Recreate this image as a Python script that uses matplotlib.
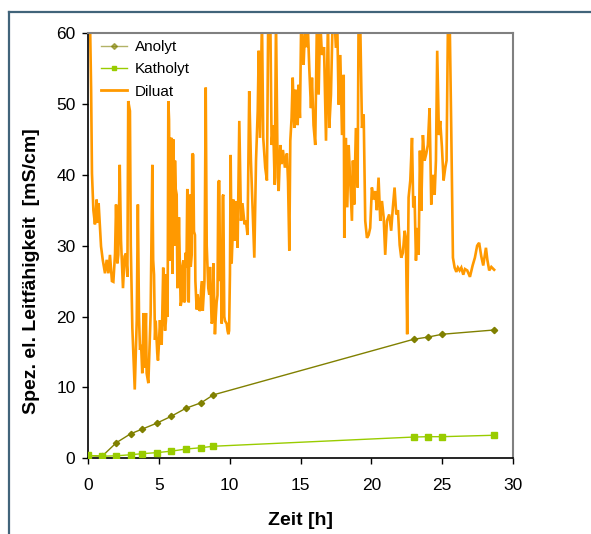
import matplotlib
matplotlib.use("Agg")
import matplotlib.pyplot as plt
from matplotlib.lines import Line2D

plt.rcParams['font.family'] = ['Liberation Sans', 'DejaVu Sans']

# ---- data ----
probe_time = [0, 1, 2, 3, 3.8, 4.85, 5.85, 6.9, 8.0, 8.85, 23.0, 24.0, 25.0, 28.65]
anolyt = [0.4, 0.3, 2.2, 3.45, 4.1, 4.95, 5.9, 7.05, 7.85, 8.95, 16.8, 17.1, 17.5, 18.1]
katholyt = [0.4, 0.3, 0.35, 0.5, 0.65, 0.8, 1.0, 1.3, 1.5, 1.7, 3.0, 3.05, 3.05, 3.25]

diluat_time = [
    0.0, 0.14, 0.22, 0.28, 0.38, 0.49, 0.61, 0.68, 0.75, 0.85, 0.92, 1.04, 1.20, 1.32,
    1.44, 1.55, 1.69, 1.79, 1.91, 1.98, 2.07, 2.14, 2.24, 2.33, 2.47, 2.58, 2.68, 2.78,
    2.84, 2.96, 3.02, 3.13, 3.30, 3.38, 3.44, 3.52, 3.60, 3.67, 3.75, 3.83, 3.92, 4.00,
    4.09, 4.14, 4.26, 4.35, 4.42, 4.54, 4.60, 4.66, 4.73, 4.78, 4.89,
    4.94, 4.99, 5.08, 5.13, 5.20, 5.31, 5.37, 5.44, 5.50, 5.55, 5.62, 5.67, 5.72, 5.79,
    5.84, 5.91, 5.96, 6.02, 6.09, 6.14, 6.19, 6.26, 6.31, 6.37, 6.42, 6.54, 6.61, 6.66,
    6.73, 6.78, 6.85, 6.89, 6.95, 7.01, 7.11, 7.20, 7.25, 7.32, 7.36, 7.43, 7.48, 7.55,
    7.58, 7.67, 7.74, 7.81, 7.86, 7.93, 7.98, 8.05, 8.10, 8.16, 8.22, 8.28, 8.31, 8.38,
    8.42, 8.49, 8.56, 8.61, 8.73, 8.80, 8.85, 8.96, 9.02, 9.08, 9.14, 9.20, 9.27, 9.32,
    9.38, 9.44, 9.51, 9.55, 9.62, 9.67, 9.79, 9.85, 9.91, 9.96, 10.02, 10.07, 10.14,
    10.21, 10.26, 10.37, 10.44, 10.56, 10.68, 10.80, 10.90, 11.05, 11.15, 11.26, 11.38,
    11.50, 11.62, 11.74, 11.86, 11.98, 12.05, 12.14, 12.28, 12.37, 12.51, 12.63, 12.72,
    12.87, 12.96, 13.07, 13.18, 13.27, 13.39, 13.46, 13.57, 13.66, 13.76, 13.90, 14.04,
    14.12, 14.21, 14.28, 14.37, 14.45, 14.56, 14.64, 14.72, 14.80, 14.87, 14.96, 15.05,
    15.14, 15.22, 15.34, 15.42, 15.50, 15.62, 15.74, 15.81, 15.92, 16.04, 16.16, 16.28,
    16.39, 16.51, 16.66, 16.80, 16.94, 17.03, 17.15, 17.27, 17.40, 17.50, 17.59, 17.69,
    17.81, 17.93, 18.05, 18.09, 18.20, 18.30, 18.40, 18.51, 18.63, 18.70, 18.79, 18.91,
    19.03, 19.10, 19.22, 19.34, 19.46, 19.57, 19.69, 19.81, 19.92, 20.04, 20.16, 20.28,
    20.39, 20.51, 20.63, 20.75, 20.87, 20.98, 21.10, 21.26, 21.40, 21.52, 21.64, 21.76,
    21.88, 22.00, 22.11, 22.23, 22.35, 22.44, 22.53, 22.63, 22.75, 22.87, 22.96, 23.05,
    23.15, 23.24, 23.34, 23.43, 23.52, 23.64, 23.76, 23.88, 23.99, 24.11, 24.23, 24.35,
    24.47, 24.56, 24.65, 24.77, 24.86, 24.98, 25.10, 25.22, 25.31, 25.41, 25.53, 25.64,
    25.76, 25.88, 26.00, 26.11, 26.23, 26.35, 26.49, 26.61, 26.77, 26.96, 27.15, 27.31,
    27.47, 27.61, 27.76, 27.90, 28.09, 28.19, 28.32, 28.47, 28.67,
]
diluat = [
    62, 62, 52.0, 40.2, 35.0, 33.0, 36.5, 33.2, 36.0, 32.5, 29.9, 28.0, 26.1, 28.0,
    26.1, 28.7, 25.0, 24.9, 28.9, 35.8, 27.5, 28.7, 41.4, 30.7, 24.0, 28.5, 28.9, 25.6,
    50.4, 49.0, 30.0, 18.4, 9.7, 15.0, 19.4, 35.8, 20.0, 15.3, 16.0, 12.0, 20.5, 12.8,
    20.5, 12.0, 10.6, 16.0, 20.3, 41.4, 28.0, 25.9, 16.7, 19.4, 14.8,
    13.8, 15.5, 19.5, 17.5, 16.0, 26.9, 20.0, 18.0, 19.4, 26.0, 20.0, 50.4, 47.8, 27.9,
    45.0, 45.2, 26.0, 45.0, 30.0, 42.0, 38.0, 37.2, 24.0, 27.9, 34.0, 21.5, 22.3, 27.0,
    27.9, 22.0, 22.3, 29.0, 26.9, 38.0, 22.0, 37.2, 27.0, 28.7, 43.0, 42.8, 32.0, 31.5,
    25.0, 21.0, 23.1, 22.0, 20.8, 21.0, 23.7, 25.0, 20.8, 23.0, 25.0, 42.0, 52.3, 30.0,
    27.9, 24.0, 23.1, 27.0, 19.0, 19.4, 27.5, 17.5, 20.0, 22.0, 23.0, 39.0, 39.2, 25.0,
    26.9, 19.0, 37.0, 37.2, 20.0, 19.4, 19.0, 18.0, 17.5, 18.0, 26.0, 42.8, 27.5,
    31.5, 36.5, 30.7, 36.3, 29.7, 47.6, 33.5, 36.0, 33.0, 33.5, 31.5, 51.8,
    42.0, 35.0, 28.3, 42.0, 49.0, 57.5, 45.2, 62, 45.2, 41.0, 39.2, 62,
    62, 44.2, 47.0, 38.6, 62, 39.6, 37.7, 44.2, 41.5, 43.5, 41.0, 43.0,
    39.0, 29.3, 44.8, 48.0, 53.7, 46.6, 52.0, 50.0, 47.0, 52.7, 48.0, 62,
    58.0, 55.5, 62, 58.0, 62, 55.0, 49.4, 53.7, 47.0, 44.2, 62, 51.3,
    62, 56.9, 58.0, 44.8, 62, 46.6, 51.3, 62, 62, 57.9, 62, 49.9,
    56.9, 45.6, 54.1, 31.1, 45.2, 35.4, 44.2, 39.0, 33.5, 42.0, 35.8, 46.6,
    38.2, 62, 61, 46.6, 48.5, 33.5, 31.1, 31.5, 32.5, 38.2, 36.5, 37.7,
    35.0, 39.6, 33.5, 36.3, 34.0, 28.7, 33.5, 34.4, 32.1, 35.4, 38.2, 34.4,
    35.0, 30.1, 28.3, 29.0, 32.1, 31.0, 17.5, 36.8, 39.2, 45.2, 35.4, 37.0,
    27.9, 32.5, 28.7, 43.4, 34.9, 45.6, 42.0, 43.0, 44.2, 49.4, 35.8, 40.0,
    37.2, 42.0, 57.5, 45.6, 47.6, 44.0, 39.2, 41.0, 42.0, 62, 62, 46.6,
    28.3, 26.9, 26.3, 26.9, 26.5, 26.9, 25.9, 26.7, 26.5, 25.6, 27.2, 28.3,
    30.0, 30.4, 28.5, 27.2, 29.7, 28.0, 26.5, 27.0, 26.6,
]

x_ticks = [0, 5, 10, 15, 20, 25, 30]
y_ticks = [0, 10, 20, 30, 40, 50, 60]

# ---- figure ----
fig = plt.figure(figsize=(5.91, 5.34), dpi=100)
ax = fig.add_axes([88 / 591, 1 - 458.3 / 534, 425 / 591, 425.3 / 534])

ax.plot(diluat_time, diluat, color='#FF9900', lw=1.9, label='Diluat', zorder=2,
        solid_joinstyle='miter')
ax.plot(probe_time, anolyt, color='#808000', lw=1.0, marker='D', ms=3.2,
        mec='#808000', mfc='#808000', label='Anolyt', zorder=3)
ax.plot(probe_time, katholyt, color='#99CC00', lw=1.0, marker='s', ms=4.3,
        mec='#99CC00', mfc='#99CC00', label='Katholyt', zorder=3)

ax.set_xlim(0, 30)
ax.set_ylim(0, 60)
ax.set_xticks(x_ticks)
ax.set_yticks(y_ticks)
ax.tick_params(axis='both', direction='out', length=4, width=1, labelsize=12.5,
               colors='black')
ax.tick_params(axis='x', pad=10)
ax.tick_params(axis='y', pad=5)

for s in ['left', 'bottom']:
    ax.spines[s].set_color('black')
    ax.spines[s].set_linewidth(1.2)
for s in ['top', 'right']:
    ax.spines[s].set_color('#808080')
    ax.spines[s].set_linewidth(1.5)

ax.set_xlabel('Zeit [h]', fontsize=14, fontweight='bold', labelpad=14)
ax.set_ylabel('Spez. el. Leitfähigkeit  [mS/cm]', fontsize=14, fontweight='bold')
ax.yaxis.set_label_coords(-0.113, 0.44)

handles = [
    Line2D([], [], color='#808000', lw=1.0, marker='D', ms=3, alpha=0.6),
    Line2D([], [], color='#99CC00', lw=1.0, marker='s', ms=3.5),
    Line2D([], [], color='#FF9900', lw=2.0),
]
ax.legend(handles, ['Anolyt', 'Katholyt', 'Diluat'], loc='upper left',
          frameon=False, fontsize=11, handlelength=1.7, handletextpad=0.5,
          labelspacing=0.55, borderaxespad=0, borderpad=0,
          bbox_to_anchor=(13 / 425, 1 - 7 / 425))

# outer frame lines (left and top)
fig.add_artist(Line2D([8.5 / 591, 8.5 / 591], [0, 1 - 12 / 534], color='#41647A',
                      lw=1.6, transform=fig.transFigure))
fig.add_artist(Line2D([8.5 / 591, 1], [1 - 12 / 534, 1 - 12 / 534], color='#41647A',
                      lw=1.6, transform=fig.transFigure))

fig.savefig('out.png', dpi=100)
